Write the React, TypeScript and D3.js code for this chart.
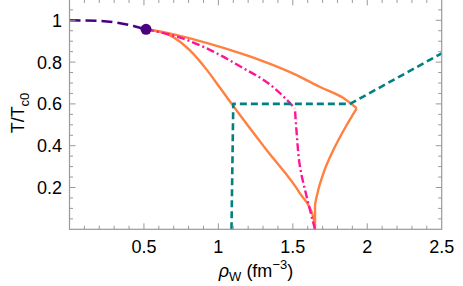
import React from 'react'
import * as d3 from 'd3'

// values
const purpleLine: [number, number][] = [
  [0, 1.0], [0.2, 0.997], [0.34, 0.986], [0.43, 0.973], [0.514, 0.957],
]
const criticalPoint: [number, number] = [0.514, 0.957]

const orangeUpper: [number, number][] = [
  [0.514, 0.957], [0.7, 0.933], [0.92, 0.892], [1.145, 0.843], [1.28, 0.81],
  [1.526, 0.738], [1.68, 0.682], [1.84, 0.628], [1.929, 0.579],
]
// ordered bottom to top
const orangeRight: [number, number][] = [
  [1.649, 0], [1.649, 0.108], [1.66, 0.156], [1.705, 0.268], [1.772, 0.379],
  [1.862, 0.499], [1.929, 0.579],
]
const orangeLower: [number, number][] = [
  [0.514, 0.957], [0.675, 0.928], [0.809, 0.856], [0.921, 0.764], [1.011, 0.677],
  [1.1, 0.59], [1.324, 0.379], [1.548, 0.172], [1.637, 0.06], [1.649, 0],
]
const magentaUpper: [number, number][] = [
  [0.514, 0.957], [0.764, 0.912], [0.921, 0.866], [1.145, 0.78], [1.369, 0.68],
  [1.514, 0.579],
]
// ordered bottom to top
const magentaLower: [number, number][] = [
  [1.649, 0], [1.593, 0.156], [1.548, 0.3], [1.526, 0.459], [1.514, 0.579],
]
const tealLine: [number, number][] = [
  [1.088, 0], [1.1, 0.6], [1.884, 0.6], [2.5, 0.842],
]

const xTicks = [0.5, 1, 1.5, 2, 2.5]
const yTicks = [0.2, 0.4, 0.6, 0.8, 1]
const xMinor = d3.range(1, 25).map((i) => i / 10)
const yMinor = d3.range(1, 22).map((i) => i / 20)

const W = 463
const H = 286
const left = 69.5
const right = 441.7
const top = -0.6
const bottom = 229.3

export default function App() {
  const x = d3.scaleLinear().domain([0, 2.5]).range([left, right])
  const y = d3.scaleLinear().domain([0, 1.1]).range([bottom, top])

  const lineX = d3
    .line<[number, number]>()
    .x((d) => x(d[0]))
    .y((d) => y(d[1]))
    .curve(d3.curveMonotoneX)
  const lineY = d3
    .line<[number, number]>()
    .x((d) => x(d[0]))
    .y((d) => y(d[1]))
    .curve(d3.curveMonotoneY)
  const straight = d3
    .line<[number, number]>()
    .x((d) => x(d[0]))
    .y((d) => y(d[1]))

  const font = '"Liberation Sans", Arial, sans-serif'
  const frame = '#999'

  return (
    <svg
      width={W}
      height={H}
      style={{ position: 'absolute', left: 0, top: 0, background: '#fff' }}
      fontFamily={font}
    >
      {/* curves */}
      <g fill="none" strokeLinejoin="round">
        <path d={lineX(orangeUpper) ?? ''} stroke="#ff8040" strokeWidth={2.4} />
        <path d={lineY(orangeRight) ?? ''} stroke="#ff8040" strokeWidth={2.4} />
        <path d={lineX(orangeLower) ?? ''} stroke="#ff8040" strokeWidth={2.4} />
        <path
          d={(lineX(magentaUpper) ?? '') + (lineY(magentaLower) ?? '')}
          stroke="#ff1493"
          strokeWidth={2.4}
          strokeDasharray="8 3 2 3"
        />
        <path
          d={straight(tealLine) ?? ''}
          stroke="#008080"
          strokeWidth={2.6}
          strokeDasharray="7 4"
        />
        <path
          d={lineX(purpleLine) ?? ''}
          stroke="#4b0082"
          strokeWidth={2.6}
          strokeDasharray="11 5"
        />
      </g>
      <circle cx={x(criticalPoint[0])} cy={y(criticalPoint[1])} r={5.5} fill="#4b0082" />

      {/* frame */}
      <rect
        x={left}
        y={top}
        width={right - left}
        height={bottom - top}
        fill="none"
        stroke={frame}
        strokeWidth={1.2}
      />
      <g stroke={frame} strokeWidth={1}>
        {xMinor.map((t) => {
          const major = Math.abs(t * 2 - Math.round(t * 2)) < 1e-6
          const len = major ? 6 : 3.5
          return (
            <g key={'x' + t}>
              <line x1={x(t)} x2={x(t)} y1={bottom} y2={bottom - len} />
              <line x1={x(t)} x2={x(t)} y1={top} y2={top + len} />
            </g>
          )
        })}
        {yMinor.map((t) => {
          const major = Math.abs(t * 5 - Math.round(t * 5)) < 1e-6
          const len = major ? 6 : 3.5
          return (
            <g key={'y' + t}>
              <line x1={left} x2={left + len} y1={y(t)} y2={y(t)} />
              <line x1={right} x2={right - len} y1={y(t)} y2={y(t)} />
            </g>
          )
        })}
      </g>

      {/* tick labels */}
      <g fontSize={18} fill="#000">
        {xTicks.map((t) => (
          <text key={t} x={x(t)} y={253} textAnchor="middle">
            {t}
          </text>
        ))}
        {yTicks.map((t) => (
          <text key={t} x={62} y={y(t) + 6.5} textAnchor="end">
            {t}
          </text>
        ))}
      </g>

      {/* axis titles */}
      <text
        transform={`translate(24, 113) rotate(-90)`}
        textAnchor="middle"
        fontSize={18}
      >
        T/T<tspan fontSize={13} dy={5}>c0</tspan>
      </text>
      <text x={256} y={277} textAnchor="middle" fontSize={18}>
        <tspan fontStyle="italic">ρ</tspan>
        <tspan fontSize={13} dy={4}>W</tspan>
        <tspan dy={-4}> (fm</tspan>
        <tspan fontSize={13} dy={-8}>−3</tspan>
        <tspan dy={8}>)</tspan>
      </text>
    </svg>
  )
}
